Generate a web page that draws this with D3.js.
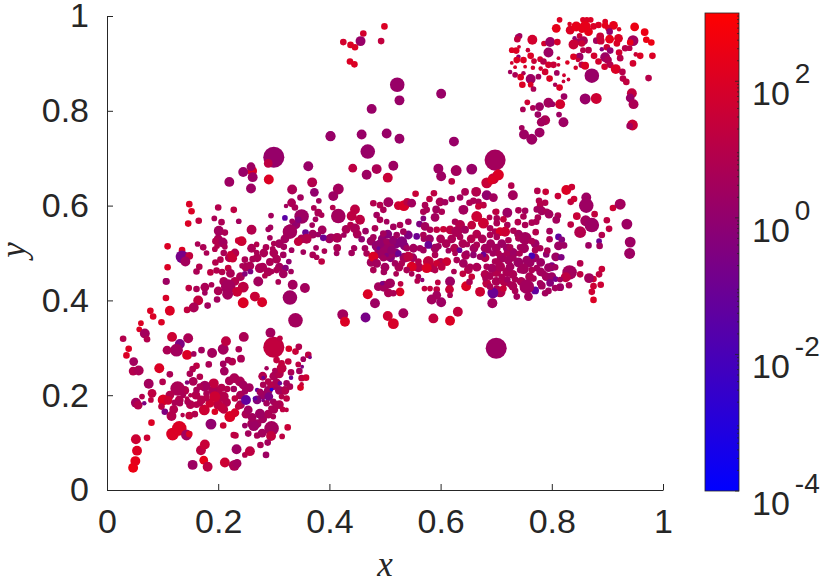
<!DOCTYPE html>
<html>
<head>
<meta charset="utf-8">
<script src="https://cdn.jsdelivr.net/npm/d3@7"></script>
<style>
  html, body { margin: 0; background: #fff; }
  svg { display: block; }
</style>
</head>
<body>
<script>
// each row: x, y, marker size, colour value
const denseLeft = [
  [.20,.21,13,8],[.22,.23,13,5],[.19,.21,13,5],[.16,.20,13,8],[.14,.21,13,8],[.15,.18,13,8],[.17,.19,13,8],[.13,.19,13,8],
  [.12,.17,13,8],[.20,.18,17,15],[.21,.17,13,15],[.215,.185,13,8],[.24,.18,13,5],[.25,.16,13,5],[.26,.14,13,5],[.27,.14,13,3],
  [.28,.15,13,3],[.29,.16,13,5],[.30,.17,13,5],[.31,.18,13,8],[.32,.21,13,5],[.31,.21,13,3],[.30,.22,13,3],[.29,.21,13,2],
  [.28,.20,13,2],[.27,.19,13,.5],[.28,.24,13,8],[.30,.24,13,5],[.31,.245,13,8],[.24,.20,13,5],
  [.26,.51,13,5],[.27,.49,13,5],[.28,.47,13,5],[.29,.46,13,5],[.22,.49,13,8],[.23,.50,13,8],[.24,.45,13,5],[.25,.47,13,5],
  [.20,.42,13,5],[.21,.44,13,5],[.23,.44,13,8],[.33,.55,17,3],[.34,.56,13,2],[.35,.53,13,5],[.37,.54,13,3],[.31,.52,13,3],
  [.32,.53,13,3],[.30,.50,13,5],[.31,.47,13,3],[.20,.53,13,5],[.21,.50,7,5],[.40,.53,13,3],[.43,.55,13,5],[.45,.54,13,5],
  [.44,.50,7,3]
];

const denseRight = [
  [.475,.525,13,2],[.485,.515,17,1],[.495,.53,13,1],[.505,.54,13,.5],[.52,.52,17,.5],[.535,.515,13,.5],[.51,.49,13,.7],[.52,.50,13,1],
  [.49,.50,17,2],[.475,.48,13,3],[.50,.47,13,3],[.525,.47,13,5],[.535,.49,17,3],[.55,.49,13,3],[.56,.47,17,8],[.585,.47,17,8],
  [.60,.48,13,8],[.57,.53,7,3],[.58,.53,13,2],[.59,.51,13,3],[.60,.53,13,5],[.61,.52,13,5],[.62,.53,13,5],[.625,.51,13,8],
  [.64,.52,13,5],[.655,.53,13,8],[.665,.54,13,8],[.675,.53,13,5],[.66,.51,13,3],[.68,.51,13,3],[.69,.52,13,3],[.645,.495,13,5],
  [.665,.47,13,5],[.68,.49,13,8],[.70,.51,13,3],[.71,.52,13,2],[.72,.51,13,2],[.73,.50,17,2],[.74,.48,17,2],[.76,.48,17,2],
  [.77,.49,13,2],[.78,.48,13,2],[.75,.51,17,3],[.77,.52,13,2],[.74,.54,13,3],[.71,.49,17,3],[.72,.46,17,5],[.70,.46,17,8],
  [.73,.455,13,5],[.76,.45,13,5],[.78,.46,13,3],[.79,.45,13,3],[.80,.45,13,2],[.70,.44,13,5],[.715,.44,17,8],[.73,.43,13,5],
  [.745,.44,13,5],[.68,.455,13,8],[.65,.465,13,8]
];

const lowerLeft = [
  [.047,.047,17,300],[.051,.061,17,200],[.054,.083,17,100],[.052,.107,17,40],[.072,.110,7,40],[.080,.142,7,100],
  [.118,.118,30,100],[.130,.130,40,100],[.143,.116,21,3],[.148,.118,7,100],[.187,.139,21,1],[.209,.136,7,40],
  [.154,.053,17,2],[.174,.063,13,200],[.181,.049,17,15],[.169,.084,17,15],[.176,.096,17,30],[.212,.058,17,40],
  [.229,.052,21,5],[.234,.056,13,3],[.233,.086,17,2],[.248,.074,5,8],[.257,.082,17,15],[.286,.074,7,2],
  [.276,.095,7,5],[.254,.119,7,3],[.228,.116,7,15],[.231,.115,7,15],[.270,.115,7,5],[.296,.130,40,3],
  [.295,.114,17,20],[.289,.100,7,3],[.279,.120,13,3],[.315,.113,5,15],[.325,.132,7,30],[.299,.155,5,5],
  [.264,.136,21,2],[.261,.153,13,3],[.248,.136,5,2],[.275,.161,17,2],[.254,.169,13,3],[.250,.190,17,.05],
  [.266,.193,3,.05],[.251,.217,7,.05],[.270,.211,3,.05],[.296,.212,2,.001],[.291,.197,13,.3],[.281,.189,2,.3],
  [.029,.319,7,8],[.039,.298,7,100],[.035,.284,7,100],[.048,.271,13,3],[.047,.251,13,8],[.057,.252,17,5],
  [.058,.339,5,100],[.061,.352,5,100],[.068,.330,17,3],[.072,.318,7,8],[.078,.378,7,100],[.083,.366,7,100],
  [.098,.354,7,100],[.117,.323,17,40],[.131,.308,17,.3],[.125,.295,30,3],[.108,.295,13,5],[.144,.285,17,100],
  [.146,.320,17,5],[.156,.287,5,3],[.170,.295,7,3],[.189,.289,17,3],[.209,.297,21,3],[.214,.314,17,15],
  [.246,.323,17,5],[.237,.297,7,5],[.241,.277,10,5],[.225,.271,10,8],[.218,.274,7,5],[.209,.266,7,3],
  [.211,.251,13,3],[.183,.265,7,5],[.161,.262,7,15],[.154,.255,7,8],[.149,.245,7,5],[.094,.257,17,100],
  [.113,.244,7,5],[.100,.228,7,8],[.075,.224,17,3],[.081,.204,13,15],[.063,.197,5,8],[.052,.184,17,3],
  [.056,.179,13,8],[.067,.183,3,.3],[.079,.190,5,15],[.127,.214,40,5],[.113,.200,13,8],[.101,.190,21,100],
  [.110,.189,13,40],[.098,.176,7,15],[.104,.165,7,.3],[.116,.156,17,8],[.136,.158,3,8],[.131,.183,7,5],
  [.122,.184,7,5],[.145,.186,7,5],[.229,.236,17,5],[.239,.229,17,5],[.245,.222,13,3],[.209,.197,21,8],
  [.194,.197,21,40],[.185,.183,13,40],[.175,.169,21,40],[.167,.183,7,8],[.161,.180,7,8],[.148,.157,10,20],
  [.158,.160,7,8],[.194,.165,7,100],[.206,.174,13,20],[.221,.155,21,100],[.230,.163,13,80],[.230,.193,7,15],
  [.236,.176,7,15],[.192,.225,17,20],[.176,.219,21,3],[.167,.239,7,8],[.155,.229,13,5],[.144,.227,3,.5],
  [.150,.200,3,8],[.137,.200,5,5],[.144,.193,3,8],[.161,.211,7,5],[.167,.218,7,5],[.179,.203,7,5],
  [.179,.194,7,8],[.228,.213,7,3],[.206,.216,10,8],[.314,.257,17,15],[.305,.274,7,20],[.314,.267,7,20],
  [.326,.271,7,20],[.339,.292,7,30],[.345,.302,7,8],[.362,.285,7,15],[.353,.276,5,3],[.344,.265,5,15],
  [.346,.251,7,3],[.351,.260,2,.3],[.365,.280,2,.3],[.327,.298,7,80],[.300,.301,91,20],[.311,.320,5,15],
  [.294,.332,17,3],[.287,.257,3,3],[.302,.252,5,5],[.290,.229,7,8],[.331,.248,7,5],[.331,.237,3,.1],
  [.350,.236,7,15],[.358,.237,7,40],[.348,.216,7,100],[.350,.223,3,30],[.305,.226,13,5],[.281,.237,2,.1],
  [.311,.225,3,.1],[.323,.225,7,3],[.329,.218,7,5],[.320,.209,7,8],[.294,.222,7,8],[.281,.222,7,5],
  [.275,.207,7,3],[.323,.193,7,15],[.314,.197,5,8],[.299,.186,7,3],[.287,.183,7,3],[.305,.180,10,5],
  [.295,.172,5,5],[.323,.169,3,15],[.316,.170,5,15],[.256,.216,13,3],[.248,.208,7,3],[.216,.213,7,8]
];

const middleLeft = [
  [.300,.702,91,1.3],[.290,.689,13,15],[.261,.673,17,100],[.259,.682,13,2],[.245,.671,17,1.5],[.262,.660,17,2],
  [.220,.650,17,2],[.291,.655,17,100],[.259,.636,17,2],[.402,.747,17,1],[.362,.683,17,1.5],[.442,.679,13,15],
  [.369,.649,17,8],[.333,.634,17,5],[.373,.628,13,1],[.416,.635,21,3],[.407,.620,17,2],[.348,.617,7,3],
  [.381,.610,5,3],[.332,.606,13,5],[.322,.599,3,3],[.338,.596,7,5],[.372,.595,5,5],[.380,.585,10,5],
  [.386,.580,5,5],[.375,.571,5,3],[.369,.559,5,3],[.406,.596,5,8],[.416,.578,40,3],[.440,.578,17,15],
  [.446,.592,17,15],[.455,.570,17,15],[.438,.559,7,8],[.446,.552,17,5],[.350,.577,40,2],[.344,.570,7,.5],
  [.320,.574,5,.03],[.333,.567,5,3],[.338,.559,5,1],[.329,.545,40,3],[.344,.524,13,20],[.357,.543,7,.1],
  [.359,.530,17,8],[.387,.549,13,3],[.380,.539,5,2],[.389,.532,7,.1],[.403,.533,10,3],[.414,.532,17,5],
  [.426,.538,5,3],[.414,.511,10,5],[.413,.499,5,3],[.444,.511,5,3],[.376,.511,5,3],[.391,.504,5,5],
  [.370,.496,7,5],[.377,.491,5,5],[.386,.482,7,15],[.353,.502,5,3],[.332,.506,5,3],[.318,.513,7,3],
  [.295,.579,5,3],[.294,.554,5,3],[.290,.550,5,3],[.293,.532,5,3],[.260,.549,17,8],[.228,.591,7,15],
  [.200,.596,7,8],[.193,.573,5,5],[.206,.565,7,5],[.237,.567,5,3],[.201,.547,17,3],[.212,.543,7,5],
  [.208,.522,17,3],[.195,.525,7,8],[.198,.515,5,8],[.194,.508,5,8],[.212,.513,5,5],[.242,.525,17,40],
  [.236,.526,7,40],[.148,.603,7,100],[.152,.588,7,100],[.146,.562,7,100],[.165,.568,7,20],[.109,.514,7,100],
  [.135,.506,7,100],[.135,.492,30,.2],[.148,.494,10,20],[.141,.482,17,3],[.109,.470,7,100],[.166,.471,7,8],
  [.161,.461,7,5],[.106,.440,7,3],[.163,.519,5,5],[.173,.512,7,5],[.179,.500,5,5],[.186,.459,7,15],
  [.197,.463,7,8],[.207,.460,7,8],[.204,.486,7,8],[.195,.480,7,8],[.222,.497,7,30],[.226,.489,13,30],
  [.218,.468,7,20],[.248,.486,7,5],[.262,.487,7,5],[.243,.473,5,5],[.257,.473,13,5],[.275,.468,17,5],
  [.282,.500,13,5],[.286,.512,7,5],[.269,.518,5,8],[.298,.509,5,5],[.300,.520,5,5],[.269,.501,5,5],
  [.293,.481,10,5],[.305,.487,13,5],[.317,.496,7,3],[.327,.482,5,1],[.321,.468,7,.5],[.331,.461,5,3],
  [.296,.461,5,5],[.305,.464,7,5],[.317,.456,13,3],[.258,.461,5,.3],[.248,.456,5,.5],[.284,.452,5,8],
  [.272,.440,17,3],[.308,.439,5,5],[.334,.433,17,3],[.356,.426,17,3],[.329,.406,40,2],[.222,.457,13,5],
  [.218,.429,40,3],[.245,.428,21,15],[.234,.418,17,30],[.217,.413,21,3],[.266,.408,17,30],[.279,.396,17,80],
  [.245,.395,21,100],[.176,.428,13,5],[.161,.424,7,5],[.147,.426,7,15],[.188,.433,5,5],[.176,.416,5,3],
  [.198,.402,7,3],[.164,.400,17,20],[.157,.385,5,3],[.181,.389,7,3],[.156,.385,17,5],[.144,.380,7,20],
  [.113,.378,17,100],[.106,.405,7,80],[.107,.440,7,2],[.339,.358,40,3]
];

const center = [
  [.467,.665,17,2],[.485,.677,17,5],[.515,.684,17,2],[.505,.659,17,30],[.596,.678,17,2],[.601,.662,17,2],
  [.628,.674,21,3],[.656,.677,21,1.5],[.620,.651,7,15],[.698,.696,91,3],[.695,.657,21,30],[.683,.648,21,30],
  [.701,.664,13,30],[.644,.629,10,5],[.664,.629,17,8],[.555,.625,7,30],[.588,.626,7,15],[.580,.614,7,15],
  [.479,.605,7,8],[.491,.601,7,8],[.506,.607,17,3],[.524,.600,13,40],[.534,.600,21,80],[.540,.608,10,15],
  [.548,.605,13,3],[.572,.601,7,5],[.569,.587,7,5],[.575,.591,7,5],[.620,.614,7,3],[.635,.617,7,3],
  [.599,.608,13,5],[.608,.607,7,3],[.592,.592,10,3],[.602,.587,7,5],[.590,.575,13,3],[.641,.591,17,3],
  [.652,.606,7,5],[.659,.610,7,5],[.668,.608,7,5],[.683,.622,17,1],[.695,.617,13,3],[.677,.601,7,15],
  [.668,.598,7,30],[.665,.577,21,40],[.677,.563,21,40],[.656,.559,13,20],[.688,.575,5,8],[.698,.587,5,8],
  [.701,.563,7,5],[.689,.552,7,5],[.698,.545,7,5],[.569,.573,5,.5],[.562,.561,7,.3],[.572,.556,13,3],
  [.581,.549,7,5],[.569,.538,7,5],[.593,.549,7,15],[.605,.550,7,30],[.617,.549,13,15],[.626,.566,7,5],
  [.635,.559,17,8],[.629,.545,21,5],[.644,.549,10,3],[.635,.534,7,5],[.648,.518,5,5],[.542,.566,7,3],
  [.527,.559,7,5],[.515,.555,7,3],[.503,.566,5,3],[.485,.580,7,3],[.497,.591,7,5],[.491,.570,7,5],
  [.482,.552,7,5],[.465,.546,7,2],[.458,.529,7,1],[.497,.541,7,3],[.479,.533,7,3],[.445,.510,5,3],
  [.500,.506,91,2],[.464,.510,7,3],[.467,.499,7,5],[.479,.492,17,100],[.491,.520,13,1],[.503,.524,7,3],
  [.515,.527,13,1],[.530,.524,21,.5],[.542,.538,13,.3],[.557,.535,7,.1],[.521,.538,7,3],[.533,.545,7,3],
  [.488,.510,2,.1],[.503,.496,3,.5],[.524,.499,7,.1],[.512,.506,13,1],[.497,.489,7,3],[.485,.478,13,3],
  [.479,.464,7,5],[.498,.460,7,3],[.518,.478,7,3],[.530,.478,7,5],[.520,.456,5,5],[.542,.492,17,15],
  [.551,.510,13,3],[.539,.510,7,3],[.563,.510,7,3],[.578,.517,10,.1],[.569,.506,7,3],[.590,.496,7,5],
  [.596,.514,7,3],[.548,.471,17,100],[.560,.482,7,8],[.578,.482,21,20],[.575,.468,17,100],[.593,.478,7,40],
  [.611,.482,13,40],[.602,.471,10,15],[.590,.464,7,8],[.539,.464,7,5],[.548,.456,5,5],[.560,.450,5,5],
  [.558,.441,5,8],[.567,.443,3,1],[.614,.505,5,3],[.634,.506,5,.1],[.626,.499,5,5],[.647,.500,5,3],
  [.659,.496,7,1],[.677,.497,5,.1],[.686,.506,7,3],[.700,.499,3,3],[.641,.478,13,3],[.629,.485,7,5],
  [.653,.471,7,5],[.668,.470,5,5],[.640,.456,7,20],[.624,.461,5,5],[.656,.450,7,30],[.683,.471,7,5],
  [.695,.468,7,5],[.701,.482,7,5],[.689,.453,7,5],[.665,.517,7,5],[.671,.492,7,3],[.498,.430,21,3],
  [.488,.429,13,3],[.495,.436,3,.3],[.509,.436,17,3],[.528,.435,5,15],[.506,.416,13,5],[.527,.418,13,100],
  [.515,.415,7,5],[.469,.413,17,100],[.482,.394,17,2],[.424,.370,21,3],[.428,.355,17,100],[.465,.364,17,.2],
  [.505,.367,17,40],[.515,.351,21,80],[.533,.373,17,3],[.587,.362,17,20],[.617,.357,17,100],[.631,.376,17,20],
  [.584,.402,17,3],[.601,.396,17,2],[.617,.440,17,2],[.616,.423,13,30],[.617,.411,5,5],[.595,.438,5,15],
  [.593,.423,7,15],[.581,.425,5,20],[.571,.425,5,20],[.593,.411,13,3],[.646,.430,17,100],[.671,.418,17,40],
  [.652,.439,7,5],[.683,.436,13,15],[.680,.446,5,5],[.694,.416,21,.1],[.693,.394,17,2],[.701,.425,7,5],
  [.707,.418,7,5]
];

const right = [
  [.700,.299,91,2],[.704,.665,21,100],[.692,.654,13,100],[.727,.642,7,8],[.730,.622,17,3],[.774,.631,7,8],
  [.789,.629,7,30],[.811,.620,7,30],[.826,.633,17,100],[.836,.639,7,40],[.834,.608,7,20],[.840,.614,7,40],
  [.862,.617,17,2],[.862,.600,40,2],[.910,.595,7,40],[.923,.603,21,3],[.877,.582,7,20],[.845,.578,10,30],
  [.834,.560,7,15],[.861,.568,21,3],[.872,.559,40,2],[.899,.569,7,15],[.903,.551,7,15],[.935,.561,21,2],
  [.851,.544,25,8],[.890,.538,7,8],[.885,.525,5,.1],[.886,.515,7,3],[.866,.516,7,2],[.941,.523,21,2],
  [.940,.499,21,2],[.777,.610,7,8],[.788,.606,7,8],[.779,.601,7,8],[.773,.592,7,3],[.782,.589,13,3],
  [.791,.587,7,5],[.795,.582,13,3],[.811,.579,7,5],[.808,.570,10,3],[.700,.587,7,15],[.720,.585,17,2],
  [.740,.590,7,5],[.752,.589,7,3],[.749,.577,7,5],[.764,.564,7,5],[.775,.575,7,5],[.772,.566,7,5],
  [.739,.565,7,8],[.752,.559,7,5],[.701,.573,7,5],[.713,.571,7,20],[.720,.559,7,5],[.707,.545,13,80],
  [.716,.545,17,40],[.731,.547,7,5],[.701,.534,7,5],[.689,.538,7,5],[.722,.527,7,5],[.740,.531,7,5],
  [.752,.531,30,3],[.764,.525,7,5],[.771,.544,7,8],[.796,.546,7,3],[.812,.534,7,.05],[.818,.528,7,.5],
  [.796,.529,7,5],[.812,.515,13,2],[.822,.516,7,2],[.764,.494,7,.01],[.790,.497,7,1],[.792,.505,7,5],
  [.779,.510,7,5],[.770,.506,7,5],[.743,.512,7,3],[.742,.499,7,5],[.725,.512,7,5],[.719,.499,7,5],
  [.704,.499,7,5],[.694,.499,7,3],[.698,.482,7,5],[.731,.489,7,3],[.722,.485,13,3],[.755,.485,13,2],
  [.749,.467,21,3],[.807,.492,13,2],[.817,.491,7,.3],[.800,.471,13,.3],[.806,.470,7,3],[.794,.469,13,2],
  [.851,.478,7,8],[.890,.466,7,30],[.885,.455,7,15],[.875,.445,7,40],[.875,.430,7,40],[.888,.433,7,40],
  [.872,.418,7,40],[.875,.401,7,100],[.867,.447,17,3],[.851,.455,7,15],[.832,.459,40,3],[.825,.449,17,15],
  [.831,.432,7,5],[.807,.445,5,.2],[.815,.444,5,3],[.797,.437,10,.5],[.815,.428,10,2],[.806,.426,7,3],
  [.782,.431,10,3],[.779,.436,7,3],[.794,.420,7,3],[.788,.415,7,3],[.770,.421,10,.05],[.758,.408,13,3],
  [.755,.429,40,3],[.737,.408,7,3],[.734,.420,7,5],[.725,.434,7,5],[.720,.444,7,3],[.734,.444,7,5],
  [.707,.418,21,8],[.713,.425,7,30],[.695,.416,17,.1],[.694,.395,13,3],[.767,.446,7,5],[.785,.456,7,3],
  [.773,.468,7,3],[.764,.464,7,5],[.743,.464,7,3],[.707,.471,17,5],[.692,.468,13,3],[.725,.471,13,3],
  [.710,.450,7,5],[.689,.450,7,5],[.689,.429,7,5]
];

const upperRight = [
  [.814,.992,5,100],[.856,.992,5,100],[.863,.992,5,100],[.870,.992,5,100],[.808,.974,13,200],[.832,.983,3,100],
  [.833,.970,13,100],[.844,.978,17,200],[.860,.978,21,200],[.854,.971,7,200],[.866,.967,13,200],[.875,.978,7,100],
  [.884,.981,7,100],[.896,.988,5,100],[.896,.980,7,200],[.911,.980,13,200],[.902,.974,7,100],[.921,.972,3,100],
  [.949,.977,13,300],[.967,.966,10,300],[.970,.950,7,300],[.979,.944,7,300],[.981,.916,7,100],[.850,.958,5,30],
  [.841,.953,3,1],[.857,.948,13,5],[.848,.946,7,5],[.839,.940,17,30],[.842,.942,7,30],[.854,.942,7,30],
  [.880,.948,7,3],[.887,.957,10,30],[.888,.948,10,30],[.904,.967,7,1],[.904,.951,13,200],[.920,.953,13,100],
  [.917,.942,7,100],[.890,.930,3,.5],[.899,.934,7,30],[.905,.927,7,1],[.921,.923,7,50],[.946,.948,21,3],
  [.941,.944,7,200],[.932,.932,7,10],[.940,.932,5,10],[.856,.928,5,10],[.866,.928,7,10],[.850,.914,10,2],
  [.876,.916,7,60],[.839,.914,7,100],[.847,.907,3,30],[.828,.902,3,100],[.854,.897,7,10],[.860,.895,10,100],
  [.843,.891,3,60],[.896,.913,17,2],[.901,.907,10,5],[.884,.904,7,60],[.895,.893,7,60],[.905,.897,7,10],
  [.915,.888,17,100],[.927,.882,7,10],[.946,.900,7,60],[.951,.919,3,30],[.959,.916,7,100],[.923,.911,7,10],
  [.928,.868,7,10],[.934,.861,7,20],[.974,.869,7,10],[.872,.874,40,1.5],[.860,.825,21,1.5],[.880,.826,21,40],
  [.944,.837,17,20],[.941,.827,13,1.5],[.947,.814,17,5],[.945,.770,21,30],[.940,.768,7,3],[.739,.956,5,3],
  [.742,.958,5,3],[.738,.951,7,20],[.765,.950,17,60],[.786,.942,5,60],[.797,.945,17,2],[.810,.945,7,60],
  [.757,.928,3,30],[.741,.935,2,30],[.794,.923,17,2],[.728,.928,5,100],[.736,.927,7,100],[.740,.914,3,1],
  [.728,.901,2,50],[.737,.907,7,100],[.749,.907,7,100],[.762,.916,7,100],[.768,.905,5,30],[.779,.909,5,60],
  [.785,.904,7,10],[.794,.897,7,60],[.803,.897,7,30],[.812,.911,2,30],[.812,.897,2,40],[.734,.892,2,80],
  [.752,.893,2,80],[.766,.891,3,50],[.780,.889,3,50],[.788,.882,7,50],[.809,.880,5,3],[.822,.875,2,50],
  [.830,.866,2,30],[.821,.862,2,30],[.725,.882,3,3],[.734,.876,5,5],[.749,.879,3,5],[.744,.871,7,100],
  [.762,.867,17,2],[.776,.872,5,3],[.796,.868,7,100],[.747,.855,7,100],[.762,.855,5,100],[.767,.846,5,5],
  [.806,.855,3,5],[.814,.849,7,100],[.822,.830,7,2],[.756,.818,5,40],[.815,.814,17,60],[.748,.803,5,5],
  [.766,.806,5,5],[.778,.809,13,2],[.794,.817,17,3],[.801,.814,5,2],[.775,.792,7,2],[.813,.792,5,2],
  [.788,.780,17,5],[.781,.776,13,3],[.821,.776,17,2],[.750,.750,17,2],[.778,.754,17,2],[.764,.740,21,2],
  [.746,.764,5,3]
];

const upperMiddle = [
  [.499,.978,7,100],[.461,.963,7,60],[.456,.947,17,1.5],[.493,.947,7,20],[.425,.945,7,60],[.438,.939,7,100],
  [.446,.934,7,100],[.437,.904,7,100],[.445,.898,7,100],[.522,.855,40,1.5],[.526,.822,17,1.5],[.601,.836,17,1.5],
  [.476,.804,17,1.5],[.402,.746,17,1.5],[.458,.750,17,1.5],[.503,.752,17,1.5],[.526,.741,17,1.5],[.624,.735,17,1.5],
  [.469,.714,40,1.5]
];

const points = [...denseLeft, ...denseRight, ...lowerLeft, ...middleLeft, ...center, ...right, ...upperRight, ...upperMiddle];

const plotTicks = [0, 0.2, 0.4, 0.6, 0.8, 1];
const colorbarTicks = [-4, -2, 0, 2];
const minorDecades = [-4, -3, -2, -1, 0, 1, 2];
const minorSteps = [2, 3, 4, 5, 6, 7, 8, 9];

const width = 822;
const height = 583;
const ink = '#262626';

const svg = d3.select('body')
  .append('svg')
  .attr('width', width)
  .attr('height', height)
  .attr('viewBox', [0, 0, width, height])
  .style('font', '34px "Liberation Sans", Arial, sans-serif');

const x = d3.scaleLinear().domain([0, 1]).range([107, 663]);
const y = d3.scaleLinear().domain([0, 1]).range([490, 16]);
const size = d3.scalePow().exponent(0.45).domain([0, 100]).range([0, 11]);
const colorValue = d3.scaleLog().domain([1e-4, 1e3]).range([0, 1]);
const color = d => d3.interpolateRgb('#0000ff', '#ff0000')(colorValue(d));

svg.append('g')
  .selectAll('circle')
  .data(points)
  .join('circle')
    .attr('cx', d => x(d[0]))
    .attr('cy', d => y(d[1]))
    .attr('r', d => size(d[2]))
    .attr('fill', d => color(d[3]));

const tickFormat = d => String(d);

const xAxis = svg.append('g')
  .attr('transform', `translate(0,${y(0)})`)
  .call(d3.axisBottom(x).tickValues(plotTicks).tickFormat(tickFormat).tickSizeInner(-6).tickSizeOuter(0).tickPadding(19));

const yAxis = svg.append('g')
  .attr('transform', `translate(${x(0)},0)`)
  .call(d3.axisLeft(y).tickValues(plotTicks).tickFormat(tickFormat).tickSizeInner(-6).tickSizeOuter(0).tickPadding(18));

[xAxis, yAxis].forEach(axis => {
  axis.attr('font-size', 34).attr('font-family', '"Liberation Sans", Arial, sans-serif');
  axis.selectAll('path, line').attr('stroke', ink).attr('stroke-width', 1);
  axis.selectAll('text').attr('fill', ink);
});

svg.append('text')
  .attr('x', 385)
  .attr('y', 576)
  .attr('text-anchor', 'middle')
  .attr('fill', ink)
  .style('font', 'italic 35px "Liberation Serif", serif')
  .text('x');

svg.append('text')
  .attr('transform', 'translate(25,250) rotate(-90)')
  .attr('text-anchor', 'middle')
  .attr('fill', ink)
  .style('font', 'italic 35px "Liberation Serif", serif')
  .text('y');

// colorbar
const barLeft = 705;
const barRight = 739;
const barY = d3.scaleLinear().domain([-4, 3]).range([491, 13]);

const gradient = svg.append('defs')
  .append('linearGradient')
  .attr('id', 'bar')
  .attr('x1', 0).attr('y1', 1).attr('x2', 0).attr('y2', 0);
gradient.append('stop').attr('offset', 0).attr('stop-color', '#0000ff');
gradient.append('stop').attr('offset', 1).attr('stop-color', '#ff0000');

svg.append('rect')
  .attr('x', barLeft)
  .attr('y', barY(3))
  .attr('width', barRight - barLeft)
  .attr('height', barY(-4) - barY(3))
  .attr('fill', 'url(#bar)')
  .attr('stroke', ink)
  .attr('stroke-width', 0.8);

const minorValues = minorDecades.flatMap(e => minorSteps.map(s => e + Math.log10(s)));

svg.append('g')
  .selectAll('line')
  .data(minorValues)
  .join('line')
    .attr('x1', barRight)
    .attr('x2', barRight - 2)
    .attr('y1', d => barY(d))
    .attr('y2', d => barY(d))
    .attr('stroke', ink)
    .attr('stroke-width', 0.8);

svg.append('g')
  .selectAll('line')
  .data(colorbarTicks)
  .join('line')
    .attr('x1', barRight)
    .attr('x2', barRight - 4)
    .attr('y1', d => barY(d))
    .attr('y2', d => barY(d))
    .attr('stroke', ink)
    .attr('stroke-width', 0.8);

const barLabel = svg.append('g')
  .selectAll('text')
  .data(colorbarTicks)
  .join('text')
    .attr('x', 752)
    .attr('y', d => barY(d) + 24)
    .attr('fill', ink);

barLabel.append('tspan').text('10');
barLabel.append('tspan')
  .attr('dx', 5)
  .attr('dy', -22)
  .attr('font-size', 28)
  .text(d => d);
</script>
</body>
</html>
